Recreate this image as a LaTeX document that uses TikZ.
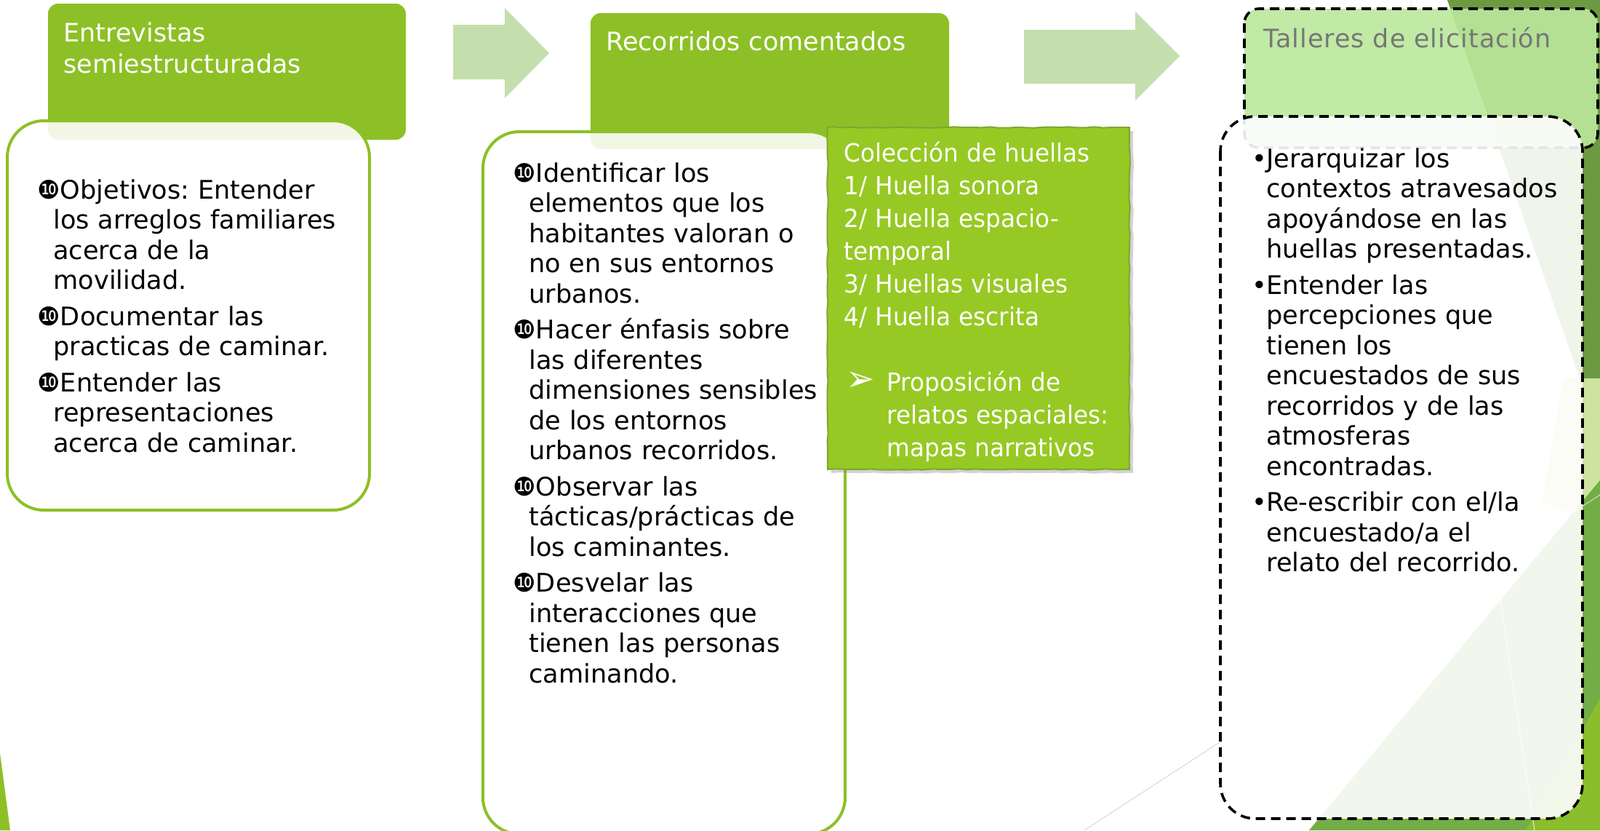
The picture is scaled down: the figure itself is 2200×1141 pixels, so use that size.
\documentclass[tikz,border=0pt]{standalone}
\usepackage{fontspec}
\setmainfont{DejaVu Sans}
\newfontfamily\notafont[FakeStretch=0.95]{DejaVu Sans}
\usetikzlibrary{decorations.pathmorphing,shadows}
\frenchspacing

\definecolor{verde}{HTML}{8DC026}
\definecolor{verdenota}{HTML}{97C924}
\definecolor{bordenota}{HTML}{7EA632}
\definecolor{verdeflecha}{HTML}{C5DEAD}
\definecolor{verdeclaro}{HTML}{BBE89C}
\definecolor{gristit}{HTML}{767676}
\definecolor{faceta1}{HTML}{6B9A43}
\definecolor{faceta2}{HTML}{CEE3A1}
\definecolor{faceta3}{HTML}{72AE45}
\definecolor{faceta4}{HTML}{8BBE2C}

% bullets of the lists (\newline keeps the hanging indent)
\newcommand{\itemdiez}[1]{\hangindent=11pt\hangafter=1\noindent ❿#1\par}
\newcommand{\itempunto}[1]{\hangindent=10pt\hangafter=1\noindent\makebox[10pt][l]{•}#1\par}

\tikzset{
  cabecera/.style={fill=verde, rounded corners=7pt},
  cuerpo/.style={draw=verde, line width=2pt, fill=white, fill opacity=0.88, rounded corners=25pt},
  discont/.style={draw=black, line width=1.8pt, dash pattern=on 6.5pt off 4pt},
  flecha/.style={fill=verdeflecha},
  titulo/.style={anchor=base west, inner sep=0pt, text width=260pt, align=left,
    font=\fontsize{17.5pt}{21.75pt}\selectfont},
  lista/.style={anchor=base west, inner sep=0pt, text width=250pt, align=left,
    font=\fontsize{17.6pt}{20.75pt}\selectfont\setlength{\parskip}{4pt}},
}

\begin{document}
\begin{tikzpicture}[x=0.5pt, y=-0.5pt]
\useasboundingbox (0,0) rectangle (2200,1141);
\clip (0,0) rectangle (2200,1141);
\fill[white] (0,0) rectangle (2200,1141);

% the facets of the background, right and bottom left
\fill[faceta1] (1990,0) -- (2200,0) -- (2200,600) -- cycle;
\fill[faceta2] (2150,520) -- (2200,520) -- (2200,720) -- (2120,690) -- cycle;
\fill[faceta3] (1800,1141) -- (2200,660) -- (2200,1141) -- cycle;
\fill[faceta4] (2200,960) -- (2200,1141) -- (2098,1141) -- cycle;
\fill[verde] (0,1035) -- (14,1141) -- (0,1141) -- cycle;
\draw[black!15, line width=0.5pt] (1491,1141) -- (2200,680);
\draw[black!8, line width=0.5pt] (1940,0) -- (2110,1141);

% the two block arrows
\fill[flecha] (623,34) -- (694,34) -- (694,11) -- (755,73) -- (694,135) -- (694,109) -- (623,109) -- cycle;
\fill[flecha] (1408,41) -- (1561,41) -- (1561,16) -- (1622,77) -- (1561,138) -- (1561,115) -- (1408,115) -- cycle;

% first step
\fill[cabecera] (66,5) rectangle (558,192);
\draw[cuerpo] (10,166) rectangle (508,701);
\node[titulo, text=white] (h1) at (87,57) {Entrevistas\\semiestructuradas};
\node[lista] (t1) at (51,273) {%
\itemdiez{Objetivos: Entender\newline los arreglos familiares\newline acerca de la\newline movilidad.}
\itemdiez{Documentar las\newline practicas de caminar.}
\itemdiez{Entender las\newline representaciones\newline acerca de caminar.}};

% second step
\fill[cabecera] (812,18) rectangle (1305,205);
\draw[cuerpo] (664,181) rectangle (1162,1146);
\node[titulo, text=white] (h2) at (833,69) {Recorridos comentados};
\node[lista] (t2) at (705,250) {%
\itemdiez{Identificar los\newline elementos que los\newline habitantes valoran o\newline no en sus entornos\newline urbanos.}
\itemdiez{Hacer énfasis sobre\newline las diferentes\newline dimensiones sensibles\newline de los entornos\newline urbanos recorridos.}
\itemdiez{Observar las\newline tácticas/prácticas de\newline los caminantes.}
\itemdiez{Desvelar las\newline interacciones que\newline tienen las personas\newline caminando.}};

% the green note on top of it
\filldraw[verdenota, draw=bordenota, line width=1pt,
  decorate, decoration={random steps, segment length=6pt, amplitude=0.4pt},
  drop shadow={shadow xshift=2.5pt, shadow yshift=-2.5pt, opacity=0.35}]
  (1138,175) rectangle (1553,645);
\node[anchor=base west, inner sep=0pt, text width=200pt, align=left, text=white,
  font=\notafont\fontsize{17.2pt}{22.5pt}\selectfont] (nota) at (1160,222) {%
Colección de huellas\\1/ Huella sonora\\2/ Huella espacio-\\temporal\\3/ Huellas visuales\\4/ Huella escrita\par
\vspace{22.5pt}
\hangindent=29.5pt\hangafter=1\noindent\hspace*{1.5pt}\makebox[28pt][l]{\scalebox{1.45}{➢}}Proposición de\newline relatos espaciales:\newline mapas narrativos\par};

% third step, dashed
\draw[discont, fill=verdeclaro, fill opacity=0.9, rounded corners=10pt] (1711,12) rectangle (2197,203);
\draw[discont, fill=white, fill opacity=0.9, rounded corners=24pt] (1678,160) rectangle (2176,1125);
\node[titulo, text=gristit] (h3) at (1737,65) {\addfontfeature{LetterSpace=3}Talleres de elicitación};
\node[lista] (t3) at (1721,230) {%
\itempunto{Jerarquizar los\newline contextos atravesados\newline apoyándose en las\newline huellas presentadas.}
\itempunto{Entender las\newline percepciones que\newline tienen los\newline encuestados de sus\newline recorridos y de las\newline atmosferas\newline encontradas.}
\itempunto{Re-escribir con el/la\newline encuestado/a el\newline relato del recorrido.}};
\end{tikzpicture}
\end{document}
